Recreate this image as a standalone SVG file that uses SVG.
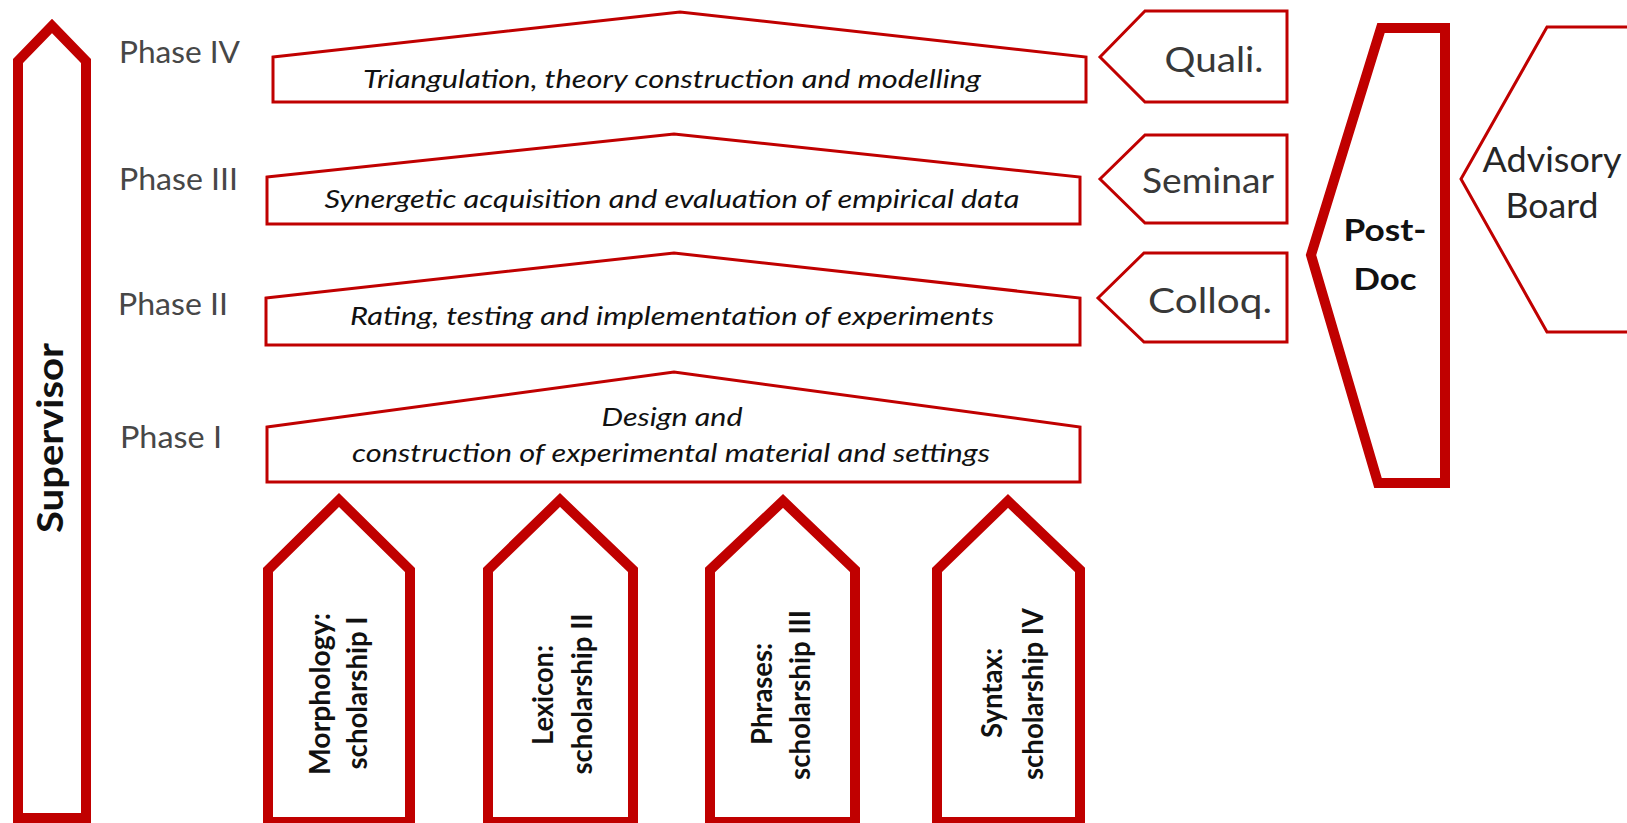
<svg xmlns="http://www.w3.org/2000/svg" width="1627" height="823" viewBox="0 0 1627 823">
  <style>
    .thick { fill: #ffffff; stroke: #c00000; stroke-width: 10; stroke-linejoin: miter; }
    .thin { fill: #ffffff; stroke: #c00000; stroke-width: 3; stroke-linejoin: miter; }
    .phase { font-family: Lato, "Open Sans", sans-serif; font-size: 31px; fill: #474747; }
    .task { font-family: Lato, "Open Sans", sans-serif; font-style: italic; font-size: 26px; fill: #111111; text-anchor: middle; }
    .tag { font-family: Lato, "Open Sans", sans-serif; font-size: 34px; fill: #383838; text-anchor: middle; }
    .bold { font-family: Lato, "Open Sans", sans-serif; font-weight: bold; fill: #111111; text-anchor: middle; }
    .vert { font-size: 28px; }
  </style>
  <rect width="1627" height="823" fill="#ffffff"/>

  <!-- Supervisor: tall upward arrow along the left edge -->
  <g id="supervisor">
    <polygon class="thick" points="18,818 18,61 52,26 86,61 86,818"/>
    <text class="bold" font-size="37" transform="translate(63,438) rotate(-90)" textLength="190" lengthAdjust="spacingAndGlyphs">Supervisor</text>
  </g>

  <!-- Phase labels -->
  <g id="phase-labels">
    <text class="phase" x="119" y="63" textLength="121" lengthAdjust="spacingAndGlyphs">Phase IV</text>
    <text class="phase" x="119" y="190" textLength="119" lengthAdjust="spacingAndGlyphs">Phase III</text>
    <text class="phase" x="118" y="315" textLength="110" lengthAdjust="spacingAndGlyphs">Phase II</text>
    <text class="phase" x="120" y="448" textLength="102" lengthAdjust="spacingAndGlyphs">Phase I</text>
  </g>

  <!-- Phase houses -->
  <g id="phase-4">
    <polygon class="thin" points="273,57 680,12 1086,57 1086,102 273,102"/>
    <text class="task" x="672" y="88" textLength="618" lengthAdjust="spacingAndGlyphs">Triangulation, theory construction and modelling</text>
  </g>
  <g id="phase-3">
    <polygon class="thin" points="267,177 674,134 1080,177 1080,224 267,224"/>
    <text class="task" x="672" y="208" textLength="695" lengthAdjust="spacingAndGlyphs">Synergetic acquisition and evaluation of empirical data</text>
  </g>
  <g id="phase-2">
    <polygon class="thin" points="266,298 674,253 1080,298 1080,345 266,345"/>
    <text class="task" x="672" y="325" textLength="644" lengthAdjust="spacingAndGlyphs">Rating, testing and implementation of experiments</text>
  </g>
  <g id="phase-1">
    <polygon class="thin" points="267,427 674,372 1080,427 1080,482 267,482"/>
    <text class="task" x="672" y="426" textLength="141" lengthAdjust="spacingAndGlyphs">Design and</text>
    <text class="task" x="671" y="462" textLength="638" lengthAdjust="spacingAndGlyphs">construction of experimental material and settings</text>
  </g>

  <!-- Scholarship arrows -->
  <g id="scholarship-1">
    <polygon class="thick" points="268,822 268,570 339,500 410,570 410,822"/>
    <text class="bold vert" transform="translate(330,694) rotate(-90)" textLength="162" lengthAdjust="spacingAndGlyphs">Morphology:</text>
    <text class="bold vert" transform="translate(367,693) rotate(-90)" textLength="153" lengthAdjust="spacingAndGlyphs">scholarship I</text>
  </g>
  <g id="scholarship-2">
    <polygon class="thick" points="488,822 488,570 560,500 633,570 633,822"/>
    <text class="bold vert" transform="translate(553,695) rotate(-90)" textLength="100" lengthAdjust="spacingAndGlyphs">Lexicon:</text>
    <text class="bold vert" transform="translate(592,694) rotate(-90)" textLength="161" lengthAdjust="spacingAndGlyphs">scholarship II</text>
  </g>
  <g id="scholarship-3">
    <polygon class="thick" points="710,822 710,570 783,501 855,570 855,822"/>
    <text class="bold vert" transform="translate(772,694) rotate(-90)" textLength="102" lengthAdjust="spacingAndGlyphs">Phrases:</text>
    <text class="bold vert" transform="translate(810,695) rotate(-90)" textLength="170" lengthAdjust="spacingAndGlyphs">scholarship III</text>
  </g>
  <g id="scholarship-4">
    <polygon class="thick" points="937,822 937,570 1008,501 1080,570 1080,822"/>
    <text class="bold vert" transform="translate(1002,693) rotate(-90)" textLength="90" lengthAdjust="spacingAndGlyphs">Syntax:</text>
    <text class="bold vert" transform="translate(1043,694) rotate(-90)" textLength="172" lengthAdjust="spacingAndGlyphs">scholarship IV</text>
  </g>

  <!-- Formats pointing left at the phases -->
  <g id="quali">
    <polygon class="thin" points="1100,57 1145,11 1287,11 1287,102 1145,102"/>
    <text class="tag" x="1214" y="72" textLength="99" lengthAdjust="spacingAndGlyphs">Quali.</text>
  </g>
  <g id="seminar">
    <polygon class="thin" points="1100,179 1145,135 1287,135 1287,223 1145,223"/>
    <text class="tag" x="1208" y="193" textLength="132" lengthAdjust="spacingAndGlyphs">Seminar</text>
  </g>
  <g id="colloq">
    <polygon class="thin" points="1098,298 1144,253 1287,253 1287,342 1144,342"/>
    <text class="tag" x="1210" y="313" textLength="124" lengthAdjust="spacingAndGlyphs">Colloq.</text>
  </g>

  <!-- Post-Doc -->
  <g id="post-doc">
    <polygon class="thick" points="1381,28 1445,28 1445,483 1378,483 1311,255"/>
    <text class="bold" font-size="30" x="1385" y="241" textLength="83" lengthAdjust="spacingAndGlyphs">Post-</text>
    <text class="bold" font-size="30" x="1385" y="290" textLength="63" lengthAdjust="spacingAndGlyphs">Doc</text>
  </g>

  <!-- Advisory Board, running off the right edge -->
  <g id="advisory-board">
    <polygon class="thin" points="1640,27 1547,27 1461,179 1547,332 1640,332"/>
    <text class="tag" x="1552" y="172" fill="#262626" style="fill:#262626" textLength="139" lengthAdjust="spacingAndGlyphs">Advisory</text>
    <text class="tag" x="1552" y="218" style="fill:#262626" textLength="93" lengthAdjust="spacingAndGlyphs">Board</text>
  </g>

  <g id="connectors"/>
</svg>
